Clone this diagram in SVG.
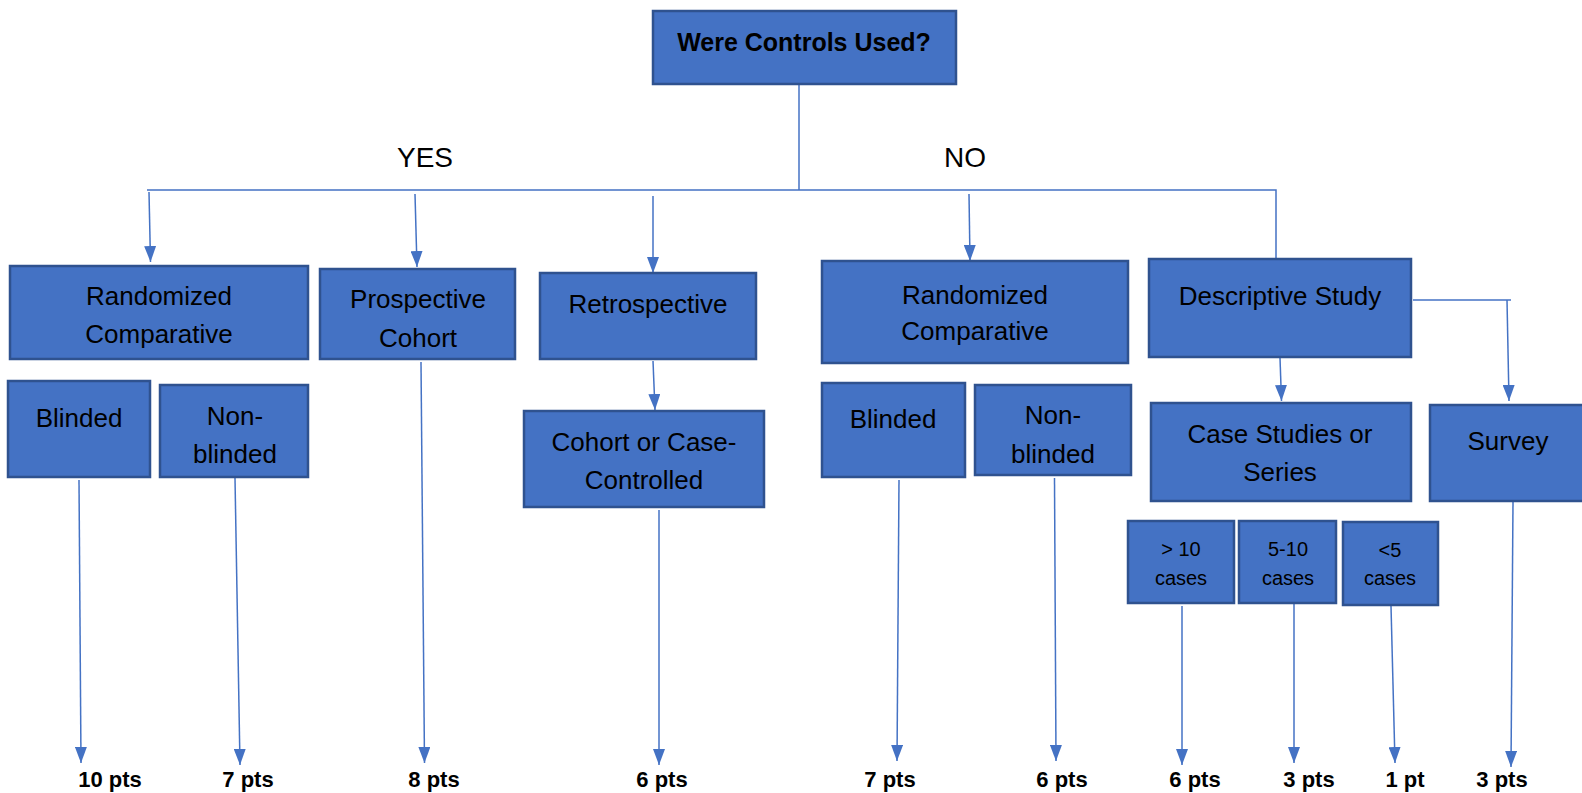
<svg xmlns="http://www.w3.org/2000/svg" width="1582" height="793" viewBox="0 0 1582 793">
<style>
.box{fill:#4472C4;stroke:#2F528F;stroke-width:2.5}
.t{font-family:"Liberation Sans",Arial,sans-serif;font-size:26px;fill:#000;text-anchor:middle}
.s{font-family:"Liberation Sans",Arial,sans-serif;font-size:20px;fill:#000;text-anchor:middle}
.b{font-family:"Liberation Sans",Arial,sans-serif;font-size:22px;font-weight:bold;fill:#000;text-anchor:middle}
.lbl{font-family:"Liberation Sans",Arial,sans-serif;font-size:28px;fill:#000;text-anchor:middle}
.c{stroke:#4472C4;stroke-width:1.5;fill:none}
.a{stroke:#4472C4;stroke-width:1.5;fill:none;marker-end:url(#arr)}
</style>
<defs>
<marker id="arr" viewBox="0 0 16 12" refX="16" refY="6" markerWidth="16" markerHeight="12" markerUnits="userSpaceOnUse" orient="auto">
<path d="M0,0 L16,6 L0,12 z" fill="#4472C4"/>
</marker>
</defs>
<rect width="1582" height="793" fill="#fff"/>
<g id="connectors">
<path class="c" d="M799,84 V190"/>
<path class="c" d="M147,190 H1276 V260"/>
<path class="a" d="M149,192 L150.5,262"/>
<path class="a" d="M415,194 L417,267"/>
<path class="a" d="M653,196 L653,273"/>
<path class="a" d="M969,194 L970,261"/>
<path class="a" d="M653,361 L655,410"/>
<path class="c" d="M1413,300 H1511"/>
<path class="a" d="M1507,300 L1509,401"/>
<path class="a" d="M1280,358 L1281.5,401"/>
<path class="a" d="M79,480 L81,763"/>
<path class="a" d="M235,478 L240,765"/>
<path class="a" d="M421,362 L424.5,763"/>
<path class="a" d="M659,510 L659,765"/>
<path class="a" d="M899,480 L897,761"/>
<path class="a" d="M1054.5,478 L1056,761"/>
<path class="a" d="M1182,606 L1182,765"/>
<path class="a" d="M1294,604 L1294,763"/>
<path class="a" d="M1391,606 L1395,763"/>
<path class="a" d="M1513,502 L1511,767"/>
</g>
<g id="n-root"><rect class="box" x="653" y="11" width="303" height="73"/><text class="t" x="804" y="51" style="font-weight:bold;font-size:25px">Were Controls Used?</text></g>
<g id="l-yes"><text class="lbl" x="425" y="167">YES</text></g>
<g id="l-no"><text class="lbl" x="965" y="167">NO</text></g>
<g id="n-rc1"><rect class="box" x="10" y="266" width="298" height="93"/><text class="t" x="159" y="305">Randomized</text><text class="t" x="159" y="343">Comparative</text></g>
<g id="n-pc"><rect class="box" x="320" y="269" width="195" height="90"/><text class="t" x="418" y="308">Prospective</text><text class="t" x="418" y="347">Cohort</text></g>
<g id="n-retro"><rect class="box" x="540" y="273" width="216" height="86"/><text class="t" x="648" y="313">Retrospective</text></g>
<g id="n-bl1"><rect class="box" x="8" y="381" width="142" height="96"/><text class="t" x="79" y="427">Blinded</text></g>
<g id="n-nb1"><rect class="box" x="160" y="385" width="148" height="92"/><text class="t" x="235" y="425">Non-</text><text class="t" x="235" y="463">blinded</text></g>
<g id="n-cc"><rect class="box" x="524" y="411" width="240" height="96"/><text class="t" x="644" y="451">Cohort or Case-</text><text class="t" x="644" y="489">Controlled</text></g>
<g id="n-rc2"><rect class="box" x="822" y="261" width="306" height="102"/><text class="t" x="975" y="304">Randomized</text><text class="t" x="975" y="340">Comparative</text></g>
<g id="n-desc"><rect class="box" x="1149" y="259" width="262" height="98"/><text class="t" x="1280" y="305">Descriptive Study</text></g>
<g id="n-bl2"><rect class="box" x="822" y="383" width="143" height="94"/><text class="t" x="893" y="428">Blinded</text></g>
<g id="n-nb2"><rect class="box" x="975" y="385" width="156" height="90"/><text class="t" x="1053" y="424">Non-</text><text class="t" x="1053" y="463">blinded</text></g>
<g id="n-case"><rect class="box" x="1151" y="403" width="260" height="98"/><text class="t" x="1280" y="443">Case Studies or</text><text class="t" x="1280" y="481">Series</text></g>
<g id="n-survey"><rect class="box" x="1430" y="405" width="160" height="96"/><text class="t" x="1508" y="450">Survey</text></g>
<g id="n-gt10"><rect class="box" x="1128" y="521" width="106" height="82"/><text class="s" x="1181" y="556">&gt; 10</text><text class="s" x="1181" y="585">cases</text></g>
<g id="n-510"><rect class="box" x="1239" y="521" width="97" height="82"/><text class="s" x="1288" y="556">5-10</text><text class="s" x="1288" y="585">cases</text></g>
<g id="n-lt5"><rect class="box" x="1343" y="522" width="95" height="83"/><text class="s" x="1390" y="557">&lt;5</text><text class="s" x="1390" y="585">cases</text></g>
<g id="points">
<text class="b" x="110" y="787">10 pts</text>
<text class="b" x="248" y="787">7 pts</text>
<text class="b" x="434" y="787">8 pts</text>
<text class="b" x="662" y="787">6 pts</text>
<text class="b" x="890" y="787">7 pts</text>
<text class="b" x="1062" y="787">6 pts</text>
<text class="b" x="1195" y="787">6 pts</text>
<text class="b" x="1309" y="787">3 pts</text>
<text class="b" x="1405" y="787">1 pt</text>
<text class="b" x="1502" y="787">3 pts</text>
</g>
</svg>
